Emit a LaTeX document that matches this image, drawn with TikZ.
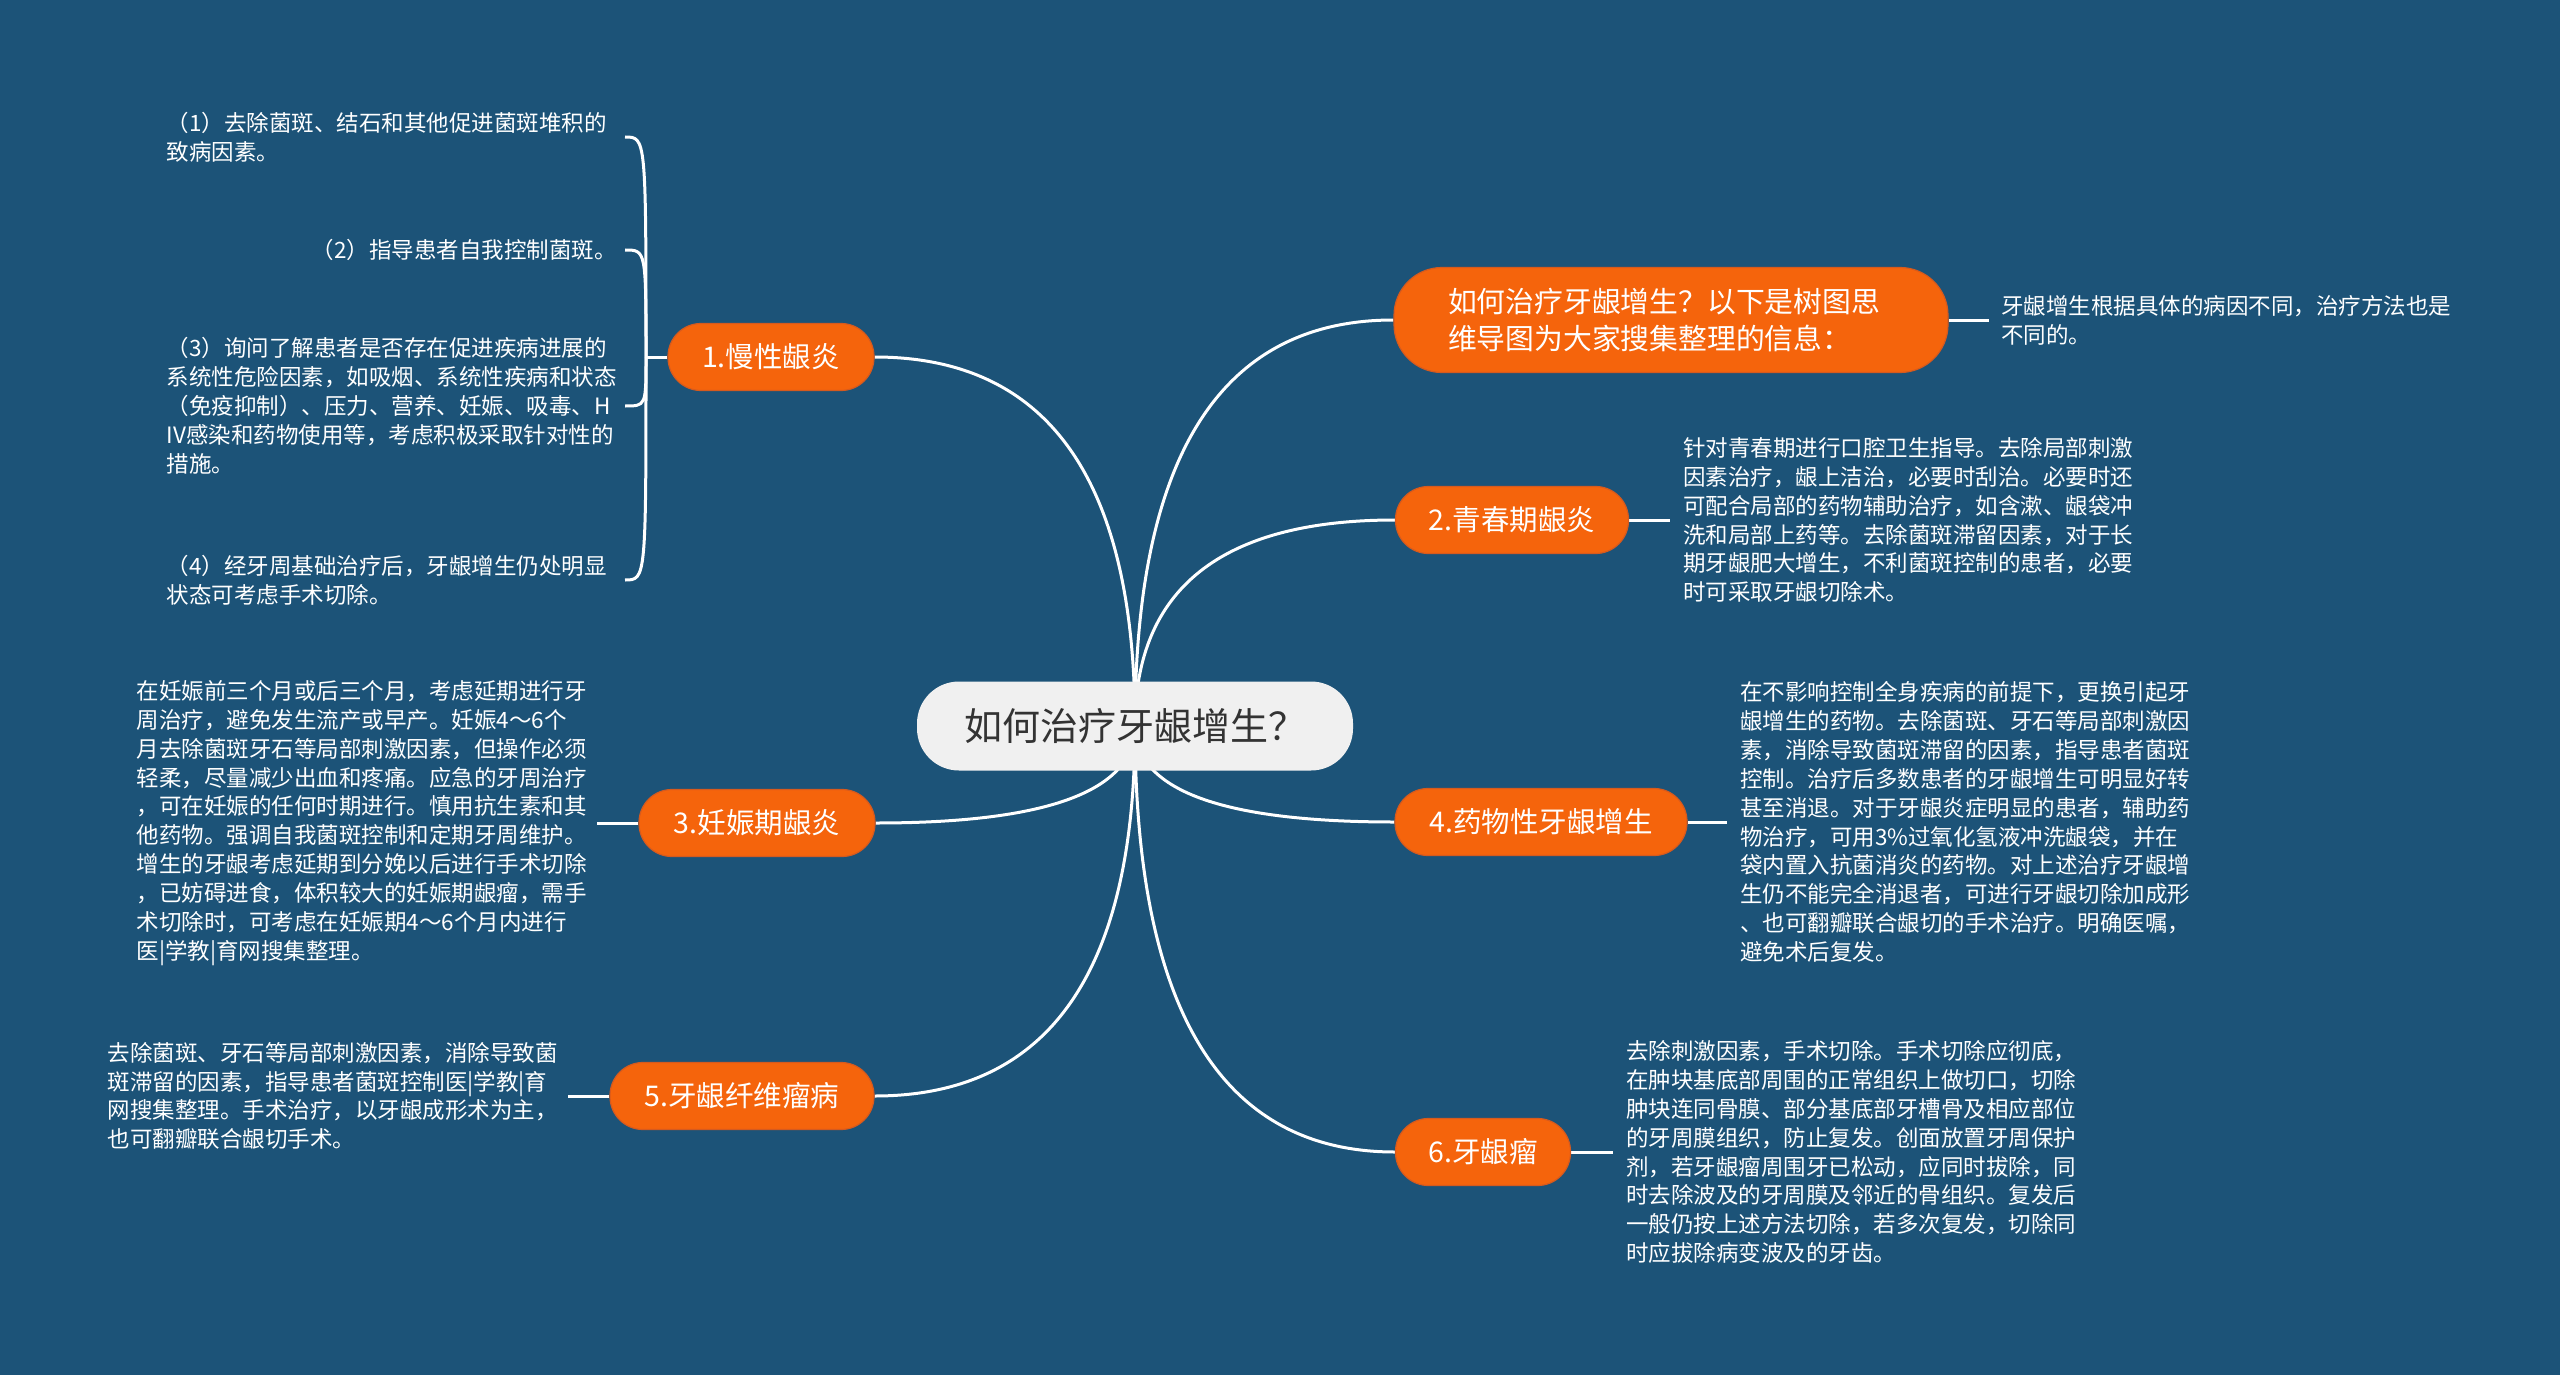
\documentclass[tikz,border=0pt]{standalone}
\usepackage{fontspec}
\setmainfont{Noto Sans CJK SC}
\usetikzlibrary{calc}
\definecolor{bgc}{HTML}{1C5378}
\definecolor{orng}{HTML}{F5640C}
\definecolor{orngd}{HTML}{D65A1E}
\definecolor{cfill}{HTML}{F0F0F0}
\definecolor{ctext}{HTML}{333333}
\pgfdeclarelayer{bg}
\pgfdeclarelayer{lines}
\pgfsetlayers{bg,lines,main}
\tikzset{
  branch/.style={fill=orng, draw=orngd, line width=1.2pt, rounded corners=33pt,
    minimum height=67pt, text=white, inner sep=0pt,
    font=\fontsize{28.5pt}{34pt}\selectfont},
  leaf/.style={text=white, font=\fontsize{22.5pt}{28.9pt}\selectfont, align=left,
    inner ysep=0pt, inner xsep=13pt},
  mainline/.style={draw=white, line width=3pt},
  stub/.style={draw=white, line width=3pt}
}
\newcommand{\mmlink}[1]{%
  \coordinate (K) at (C.center |- #1);%
  \draw[mainline] (C.center) .. controls ($(C.center)!0.667!(K)$) and ($(#1)!0.667!(K)$) .. (#1);}
\newcommand{\brlink}[1]{%
  \draw[stub] (J) .. controls (J |- #1) and (J |- #1) .. (#1);}
\begin{document}
\begin{tikzpicture}[x=1pt,y=-1pt]
\useasboundingbox (0,0) rectangle (2560,1375);
\begin{pgfonlayer}{bg}
  \fill[bgc] (0,0) rectangle (2560,1375);
\end{pgfonlayer}

% central
\node[fill=cfill, rounded corners=42pt, minimum width=436pt, minimum height=89pt,
  inner sep=0pt, text=ctext, font=\fontsize{38pt}{44pt}\selectfont] (C) at (1135,726) {如何治疗牙龈增生？};

% branches
\node[branch, minimum width=554pt, minimum height=105pt, rounded corners=48pt, align=left,
  text width=446pt, font=\fontsize{28.8pt}{37pt}\selectfont] (T) at (1671,320)
  {如何治疗牙龈增生？以下是树图思\\维导图为大家搜集整理的信息：};
\node[branch, minimum width=206pt] (n1) at (771,357) {1.慢性龈炎};
\node[branch, minimum width=233pt] (n2) at (1512,520) {2.青春期龈炎};
\node[branch, minimum width=236pt] (n3) at (757,823) {3.妊娠期龈炎};
\node[branch, minimum width=292pt] (n4) at (1541,822) {4.药物性牙龈增生};
\node[branch, minimum width=264pt] (n5) at (742,1096) {5.牙龈纤维瘤病};
\node[branch, minimum width=175pt] (n6) at (1483,1152) {6.牙龈瘤};

% leaves right
\node[leaf, anchor=west, inner xsep=12pt] (lT) at (1989,320)
  {牙龈增生根据具体的病因不同，治疗方法也是\\不同的。};
\node[leaf, anchor=west] (l2) at (1670,520)
  {针对青春期进行口腔卫生指导。去除局部刺激\\因素治疗，龈上洁治，必要时刮治。必要时还\\可配合局部的药物辅助治疗，如含漱、龈袋冲\\洗和局部上药等。去除菌斑滞留因素，对于长\\期牙龈肥大增生，不利菌斑控制的患者，必要\\时可采取牙龈切除术。};
\node[leaf, anchor=west] (l4) at (1727,822)
  {在不影响控制全身疾病的前提下，更换引起牙\\龈增生的药物。去除菌斑、牙石等局部刺激因\\素，消除导致菌斑滞留的因素，指导患者菌斑\\控制。治疗后多数患者的牙龈增生可明显好转\\甚至消退。对于牙龈炎症明显的患者，辅助药\\物治疗，可用3\%过氧化氢液冲洗龈袋，并在\\袋内置入抗菌消炎的药物。对上述治疗牙龈增\\生仍不能完全消退者，可进行牙龈切除加成形\\、也可翻瓣联合龈切的手术治疗。明确医嘱，\\避免术后复发。};
\node[leaf, anchor=west] (l6) at (1613,1152)
  {去除刺激因素，手术切除。手术切除应彻底，\\在肿块基底部周围的正常组织上做切口，切除\\肿块连同骨膜、部分基底部牙槽骨及相应部位\\的牙周膜组织，防止复发。创面放置牙周保护\\剂，若牙龈瘤周围牙已松动，应同时拔除，同\\时去除波及的牙周膜及邻近的骨组织。复发后\\一般仍按上述方法切除，若多次复发，切除同\\时应拔除病变波及的牙齿。};

% leaves left
\node[leaf, anchor=east, inner xsep=10pt] (l3) at (597,823)
  {在妊娠前三个月或后三个月，考虑延期进行牙\\周治疗，避免发生流产或早产。妊娠4～6个\\月去除菌斑牙石等局部刺激因素，但操作必须\\轻柔，尽量减少出血和疼痛。应急的牙周治疗\\，可在妊娠的任何时期进行。慎用抗生素和其\\他药物。强调自我菌斑控制和定期牙周维护。\\增生的牙龈考虑延期到分娩以后进行手术切除\\，已妨碍进食，体积较大的妊娠期龈瘤，需手\\术切除时，可考虑在妊娠期4～6个月内进行\\医|学教|育网搜集整理。};
\node[leaf, anchor=east, inner xsep=10pt] (l5) at (568,1096)
  {去除菌斑、牙石等局部刺激因素，消除导致菌\\斑滞留的因素，指导患者菌斑控制医|学教|育\\网搜集整理。手术治疗，以牙龈成形术为主，\\也可翻瓣联合龈切手术。};

% leaves of node 1
\node[leaf, anchor=east, inner xsep=18pt] (a1) at (625,137)
  {（1）去除菌斑、结石和其他促进菌斑堆积的\\致病因素。};
\node[leaf, anchor=east, inner xsep=8pt] (a2) at (625,250)
  {（2）指导患者自我控制菌斑。};
\node[leaf, anchor=east, inner xsep=8pt] (a3) at (625,406)
  {（3）询问了解患者是否存在促进疾病进展的\\系统性危险因素，如吸烟、系统性疾病和状态\\（免疫抑制）、压力、营养、妊娠、吸毒、H\\IV感染和药物使用等，考虑积极采取针对性的\\措施。};
\node[leaf, anchor=east, inner xsep=18pt] (a4) at (625,580)
  {（4）经牙周基础治疗后，牙龈增生仍处明显\\状态可考虑手术切除。};
\coordinate (J) at (646,357);

\begin{pgfonlayer}{lines}
  \mmlink{n1.east}
  \mmlink{T.west}
  \mmlink{n2.west}
  \mmlink{n3.east}
  \mmlink{n4.west}
  \mmlink{n5.east}
  \mmlink{n6.west}
  \draw[stub] (T.east) -- (lT.west);
  \draw[stub] (n2.east) -- (l2.west);
  \draw[stub] (n4.east) -- (l4.west);
  \draw[stub] (n6.east) -- (l6.west);
  \draw[stub] (n3.west) -- (l3.east);
  \draw[stub] (n5.west) -- (l5.east);
  \draw[stub] (n1.west) -- (J);
  \brlink{a1.east}
  \brlink{a2.east}
  \brlink{a3.east}
  \brlink{a4.east}
\end{pgfonlayer}
\end{tikzpicture}
\end{document}
